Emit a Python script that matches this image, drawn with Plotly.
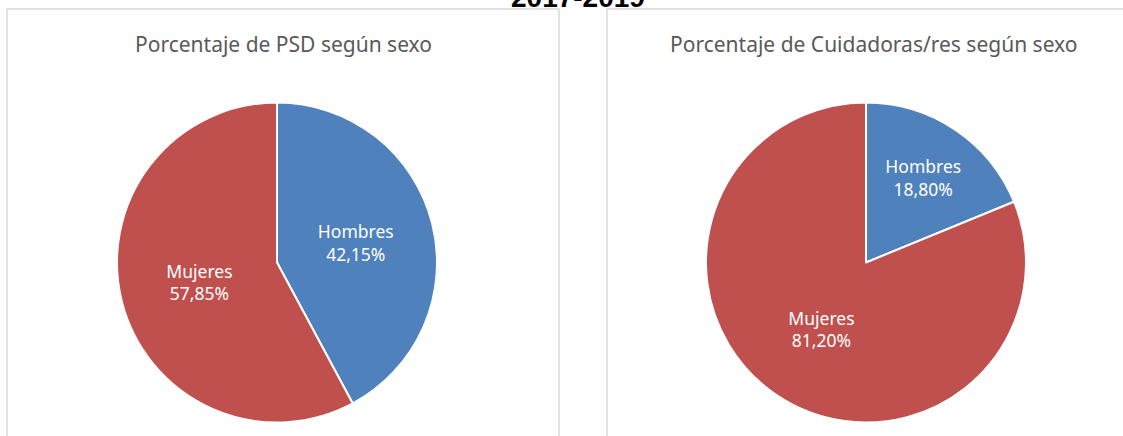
import plotly.graph_objects as go

W, H = 1123, 436

categories = ["Hombres", "Mujeres"]
psd_values = [42.15, 57.85]
cuid_values = [18.80, 81.20]
colors = ["#4F81BD", "#C0504D"]

main_title = "2017-2019"
left_title = "Porcentaje de PSD según sexo"
right_title = "Porcentaje de Cuidadoras/res según sexo"


def px(x):
    return x / W


def py(y):
    return 1 - y / H


fig = go.Figure()

common = dict(
    labels=categories,
    sort=False,
    direction="clockwise",
    rotation=0,
    marker=dict(colors=colors, line=dict(color="white", width=2)),
    textposition="inside",
    insidetextorientation="horizontal",
    texttemplate="%{label}<br>%{percent:.2%}",
    textfont=dict(family="Noto Sans", size=17.5, color="white"),
    showlegend=False,
    hoverinfo="label+percent",
)

fig.add_trace(go.Pie(values=psd_values,
                     domain=dict(x=[px(117), px(437)], y=[py(422.5), py(102.5)]),
                     **common))
fig.add_trace(go.Pie(values=cuid_values,
                     domain=dict(x=[px(706), px(1026)], y=[py(422.5), py(102.5)]),
                     **common))

shapes = [
    dict(type="rect", xref="paper", yref="paper",
         x0=px(7), x1=px(559), y0=py(440), y1=py(9),
         line=dict(color="#D9D9D9", width=1.5), fillcolor="rgba(0,0,0,0)"),
    dict(type="rect", xref="paper", yref="paper",
         x0=px(607), x1=px(1128), y0=py(440), y1=py(9),
         line=dict(color="#D9D9D9", width=1.5), fillcolor="rgba(0,0,0,0)"),
]

annotations = [
    dict(text="<b>" + main_title + "</b>", x=px(578), y=py(15), xref="paper", yref="paper",
         xanchor="center", yanchor="bottom", showarrow=False,
         font=dict(family="Liberation Sans", size=28, color="black")),
    dict(text=left_title, x=px(283.5), y=py(44), xref="paper", yref="paper",
         xanchor="center", yanchor="middle", showarrow=False,
         font=dict(family="Noto Sans", size=21, color="#595959")),
    dict(text=right_title, x=px(873.5), y=py(44), xref="paper", yref="paper",
         xanchor="center", yanchor="middle", showarrow=False,
         font=dict(family="Noto Sans", size=21, color="#595959")),
]

fig.update_layout(
    width=W, height=H,
    margin=dict(l=0, r=0, t=0, b=0),
    paper_bgcolor="white",
    plot_bgcolor="white",
    separators=",.",
    shapes=shapes,
    annotations=annotations,
)

fig.write_html("out.html",
               config={"displayModeBar": False},
               post_script="document.body.style.margin='0';document.body.style.overflow='hidden';")
